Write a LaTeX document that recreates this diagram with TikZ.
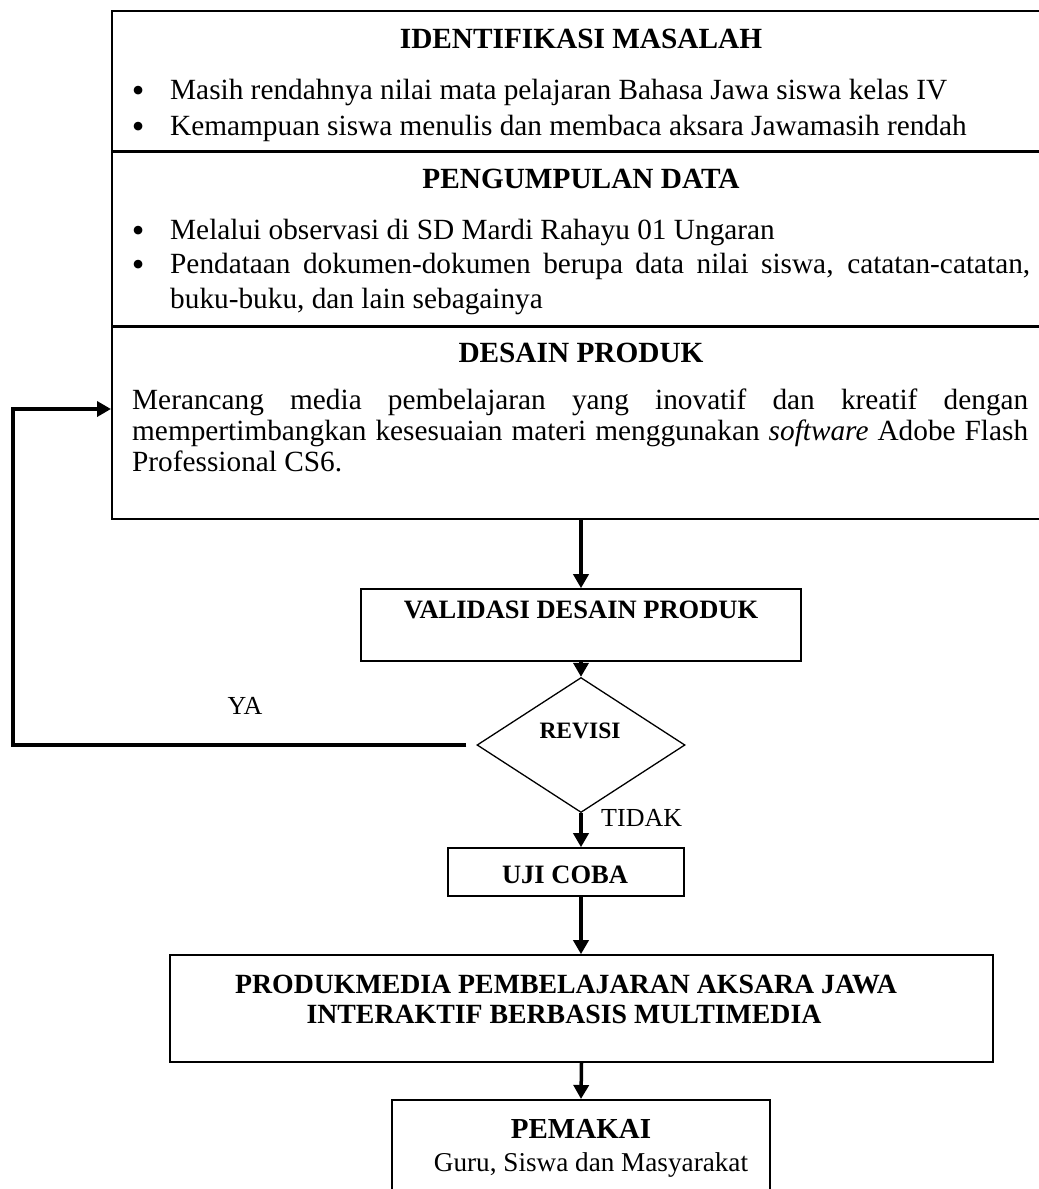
\documentclass[tikz,border=0pt]{standalone}
\usepackage{fontspec}
\setmainfont{Liberation Serif}
\usetikzlibrary{arrows.meta,shapes.geometric}
\newcommand{\mybul}{\makebox[38.3pt][l]{\fontsize{36}{36}\selectfont\raisebox{-3.2pt}{•}}}
\begin{document}
\begin{tikzpicture}[x=1pt,y=-1pt,
  box/.style={draw, line width=1.6pt, inner sep=0pt},
  arr/.style={line width=3.5pt, -{Triangle[length=14pt,width=15pt]}},
  ttl/.style={inner sep=0pt, font=\bfseries\fontsize{29.3}{36}\selectfont},
  txt/.style={inner sep=0pt, font=\fontsize{29.3}{36}\selectfont},
  lowttl/.style={inner sep=0pt, font=\bfseries\fontsize{26.5}{30}\selectfont},
  lowtxt/.style={inner sep=0pt, font=\fontsize{26}{30}\selectfont}
]
\useasboundingbox (0,0) rectangle (1039,1189);
\clip (0,0) rectangle (1039,1189);

% ---- top stacked boxes
\node[box, anchor=north west, minimum width=931pt, minimum height=140pt] (ident) at (111,10) {};
\node[box, anchor=north west, minimum width=931pt, minimum height=173pt] (peng) at (ident.south west) {};
\node[box, anchor=north west, minimum width=931pt, minimum height=192pt] (desain) at (peng.south west) {};

% IDENTIFIKASI
\node[ttl, anchor=base] (identT) at (581,48) {IDENTIFIKASI MASALAH};
\node[txt, anchor=base west] (i1) at (131.7,99) {\mybul Masih rendahnya nilai mata pelajaran Bahasa Jawa siswa kelas IV};
\node[txt, anchor=base west] (i2) at (131.7,135) {\mybul Kemampuan siswa menulis dan membaca aksara Jawamasih rendah};

% PENGUMPULAN
\node[ttl, anchor=base] (pengT) at (581,188) {PENGUMPULAN DATA};
\node[txt, anchor=base west] (p1) at (131.7,239) {\mybul Melalui observasi di SD Mardi Rahayu 01 Ungaran};
\node[txt, anchor=base west] (p2a) at (131.7,273)
  {\makebox[898.3pt][s]{\mybul Pendataan dokumen-dokumen berupa data nilai siswa, catatan-catatan,}};
\node[txt, anchor=base west] (p2b) at (170,308) {buku-buku, dan lain sebagainya};

% DESAIN
\node[ttl, anchor=base] (desainT) at (581,362) {DESAIN PRODUK};
\node[inner sep=0pt, anchor=base west, text width=896pt, align=justify,
      font=\fontsize{29.3}{31}\selectfont] (d1) at (132,409)
  {Merancang media pembelajaran yang inovatif dan kreatif dengan\linebreak mempertimbangkan kesesuaian materi menggunakan \textit{software} Adobe Flash\linebreak Professional CS6.};

% ---- lower flow
\node[box, minimum width=440pt, minimum height=72pt] (valid) at (581,625) {};
\node[lowttl, anchor=base] (validT) at (581,618) {VALIDASI DESAIN PRODUK};

\node[draw, diamond, line width=1.3pt, minimum width=208pt, minimum height=135pt, inner sep=0pt] (revisi) at (581,745) {};
\node[inner sep=0pt, anchor=base, font=\bfseries\fontsize{23.5}{28}\selectfont] (revisiT) at (580,738) {REVISI};

\node[lowtxt, anchor=base west] (tidak) at (601,826) {TIDAK};
\node[lowtxt, anchor=base] (ya) at (245,714) {YA};

\node[box, minimum width=236pt, minimum height=48pt] (uji) at (566,872) {};
\node[lowttl, anchor=base] (ujiT) at (565,883) {UJI COBA};

\node[box, minimum width=823pt, minimum height=107pt] (produk) at (581.5,1008.5) {};
\node[inner sep=0pt, anchor=base, font=\bfseries\fontsize{27.8}{30}\selectfont] (produkT1) at (566,993) {PRODUKMEDIA PEMBELAJARAN AKSARA JAWA};
\node[inner sep=0pt, anchor=base, font=\bfseries\fontsize{27.8}{30}\selectfont] (produkT2) at (564,1023) {INTERAKTIF BERBASIS MULTIMEDIA};

\node[box, anchor=north, minimum width=378pt, minimum height=120pt] (pemakai) at (581,1099) {};
\node[inner sep=0pt, anchor=base, font=\bfseries\fontsize{29}{34}\selectfont] (pemakaiT) at (581,1138) {PEMAKAI};
\node[inner sep=0pt, anchor=base, font=\fontsize{27.2}{30}\selectfont] (guru) at (591,1171) {Guru, Siswa dan Masyarakat};

% ---- connectors
\draw[arr] (valid.north |- desain.south) -- (valid.north);
\draw[arr] (valid.south) -- (revisi.north);
\draw[arr] (revisi.south) -- (revisi.south |- uji.north);
\draw[arr] (revisi.south |- uji.south) -- (revisi.south |- produk.north);
\draw[arr] (produk.south) -- (pemakai.north);

\coordinate (fbA) at ([xshift=-10pt]revisi.west);
\coordinate (fbB) at (13,745);
\coordinate (fbC) at ([yshift=14pt]desain.west);
\draw[arr] (fbA) -- (fbB) |- (fbC);
\end{tikzpicture}
\end{document}
